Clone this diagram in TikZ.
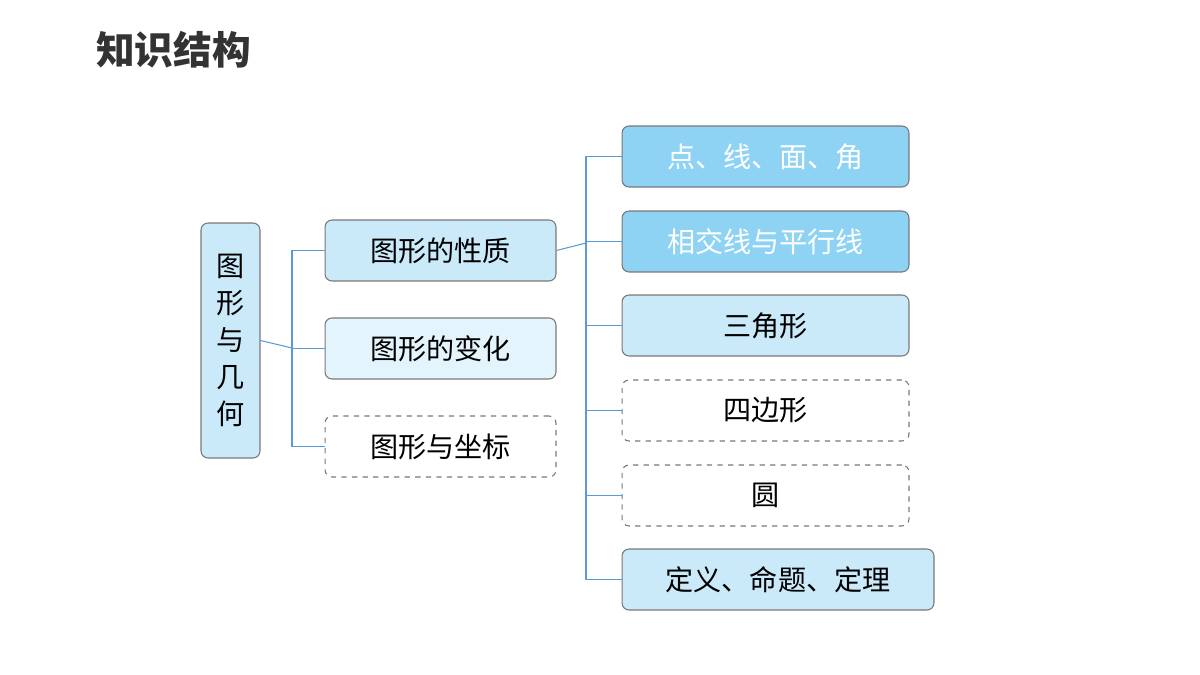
\documentclass[tikz,border=0pt]{standalone}
\usepackage{fontspec}
\newfontfamily\cjk{Noto Sans CJK SC}
\usetikzlibrary{positioning}
\definecolor{lineblue}{RGB}{91,155,213}
\definecolor{lightfill}{RGB}{202,234,250}
\definecolor{paleblue}{RGB}{228,244,252}
\definecolor{deepfill}{RGB}{142,211,244}
\definecolor{edgegray}{RGB}{120,120,120}
\tikzset{
  box/.style={draw=edgegray, rounded corners=4pt, line width=0.6pt, inner sep=0pt,
    font=\cjk\fontsize{16}{18}\selectfont},
  full/.style={box, fill=lightfill},
  deep/.style={box, fill=deepfill, text=white},
  pale/.style={box, fill=paleblue},
  open/.style={box, dashed, fill=white},
  link/.style={draw=lineblue, line width=0.6pt}
}
\begin{document}
\begin{tikzpicture}[x=0.02cm, y=-0.02cm]
\useasboundingbox (0,0) rectangle (1200,675);

% title
\node[anchor=west, font=\cjk\bfseries\fontsize{22}{24}\selectfont, text=black!80] (title) at (90,50) {知识结构};

% root
\node[full, minimum width=1.18cm, minimum height=4.7cm, align=center, font=\cjk\fontsize{16}{21}\selectfont] (root) at (230.5,340.5) {图\\形\\与\\几\\何};

% middle column
\node[full, minimum width=4.62cm, minimum height=1.22cm] (prop) at (440.5,250.5) {图形的性质};
\node[pale, minimum width=4.62cm, minimum height=1.22cm] (change) at (440.5,348.5) {图形的变化};
\node[open, minimum width=4.62cm, minimum height=1.22cm] (coord) at (440.5,446.5) {图形与坐标};

% right column
\node[deep, minimum width=5.74cm, minimum height=1.22cm] (point) at (765.5,156.5) {点、线、面、角};
\node[deep, minimum width=5.74cm, minimum height=1.22cm] (cross) at (765.5,241.5) {相交线与平行线};
\node[full, minimum width=5.74cm, minimum height=1.22cm] (tri) at (765.5,325.5) {三角形};
\node[open, minimum width=5.74cm, minimum height=1.22cm] (quad) at (765.5,410.5) {四边形};
\node[open, minimum width=5.74cm, minimum height=1.22cm] (circ) at (765.5,495.5) {圆};
\node[full, minimum width=6.24cm, minimum height=1.22cm] (defn) at (778,579.5) {定义、命题、定理};

% connectors
\coordinate (busA) at (292,348);
\coordinate (busB) at (586,243);
\draw[link] (root.east) -- (busA);
\foreach \n in {prop,change,coord}
  \draw[link] (busA) |- (\n.west);
\draw[link] (prop.east) -- (busB);
\foreach \n in {point,cross,tri,quad,circ,defn}
  \draw[link] (busB) |- (\n.west);
\end{tikzpicture}
\end{document}
